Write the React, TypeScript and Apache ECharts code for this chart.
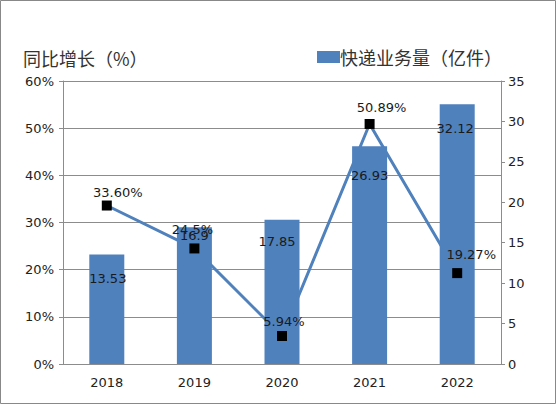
import React, { useEffect, useRef } from 'react';
import * as echarts from 'echarts';

const years = ['2018', '2019', '2020', '2021', '2022'];
const volume = [13.53, 16.9, 17.85, 26.93, 32.12];
const volumeLabels = ['13.53', '16.9', '17.85', '26.93', '32.12'];
const growth = [33.6, 24.5, 5.94, 50.89, 19.27];
const growthLabels = ['33.60%', '24.5%', '5.94%', '50.89%', '19.27%'];
const leftTicks = [0, 60, 10];
const rightTicks = [0, 35, 5];

// label placement
const barLabelPos = [[1, 24], [0, 8], [-5, 22], [0, 29], [-2, 24]];
const lineLabelPos = [[11, -13], [-2, -19], [2, -14], [12, -16], [14, -19]];

const BLUE = '#4f81bd';
const GRID = '#8c8c8c';
const FONT = "'DejaVu Sans', 'Noto Sans CJK SC', sans-serif";

function App() {
  const chartRef = useRef(null);

  useEffect(() => {
    if (!chartRef.current) return;
    const chart = echarts.init(chartRef.current, null, { renderer: 'svg' });

    const options = {
      animation: false,
      textStyle: { fontFamily: FONT },
      title: {
        text: '同比增长（%）',
        left: 18,
        top: 44,
        textStyle: { fontFamily: "'Noto Sans CJK SC', sans-serif", fontSize: 18, fontWeight: 'normal', color: '#333' },
      },
      legend: {
        data: ['快递业务量（亿件）'],
        left: 312,
        top: 43,
        itemWidth: 23,
        itemHeight: 12,
        icon: 'rect',
        textStyle: { fontFamily: "'Noto Sans CJK SC', sans-serif", fontSize: 18, color: '#333', padding: [0, 0, 0, -5] },
      },
      graphic: [
        { type: 'rect', shape: { x: 0.5, y: 0.5, width: 555, height: 403 }, style: { fill: 'none', stroke: '#888', lineWidth: 1 } },
      ],
      grid: { left: 63, right: 55, top: 81, bottom: 40 },
      xAxis: {
        type: 'category',
        data: years,
        axisLine: { lineStyle: { color: GRID } },
        axisTick: { length: 6, lineStyle: { color: GRID } },
        axisLabel: { fontSize: 13, color: '#222', margin: 12 },
      },
      yAxis: [
        {
          type: 'value',
          min: leftTicks[0],
          max: leftTicks[1],
          interval: leftTicks[2],
          axisLine: { show: true, lineStyle: { color: GRID } },
          axisTick: { show: true, length: 4, lineStyle: { color: GRID } },
          splitLine: { lineStyle: { color: GRID } },
          axisLabel: { fontSize: 13, color: '#222', formatter: '{value}%', margin: 9 },
        },
        {
          type: 'value',
          min: rightTicks[0],
          max: rightTicks[1],
          interval: rightTicks[2],
          axisLine: { show: true, lineStyle: { color: GRID } },
          axisTick: { show: true, length: 4, lineStyle: { color: GRID } },
          splitLine: { show: false },
          axisLabel: { fontSize: 13, color: '#222', margin: 7 },
        },
      ],
      series: [
        {
          name: '同比增长',
          type: 'line',
          yAxisIndex: 0,
          data: growth,
          showSymbol: false,
          lineStyle: { color: BLUE, width: 3 },
          z: 1,
        },
        {
          name: '快递业务量（亿件）',
          type: 'bar',
          yAxisIndex: 1,
          data: volume.map((v, i) => ({
            value: v,
            label: {
              position: ['50%', barLabelPos[i][1]],
              offset: [barLabelPos[i][0], 0],
            },
          })),
          barWidth: 35,
          itemStyle: { color: BLUE },
          label: {
            show: true,
            align: 'center',
            verticalAlign: 'middle',
            fontSize: 13,
            color: '#1a1a1a',
            formatter: (p) => volumeLabels[p.dataIndex],
          },
          z: 2,
        },
        {
          name: '同比增长点',
          type: 'scatter',
          yAxisIndex: 0,
          data: growth.map((v, i) => ({
            value: v,
            label: { offset: lineLabelPos[i] },
          })),
          symbol: 'rect',
          symbolSize: 10,
          itemStyle: { color: '#000', opacity: 1 },
          label: {
            show: true,
            position: 'inside',
            fontSize: 13,
            color: '#1a1a1a',
            formatter: (p) => growthLabels[p.dataIndex],
          },
          z: 3,
        },
      ],
    };

    chart.setOption(options);
    return () => {
      chart.dispose();
    };
  }, []);

  return (
    <div
      ref={chartRef}
      style={{ position: 'absolute', left: 0, top: 0, width: '556px', height: '404px', background: '#fff' }}
    />
  );
}

export default App;
